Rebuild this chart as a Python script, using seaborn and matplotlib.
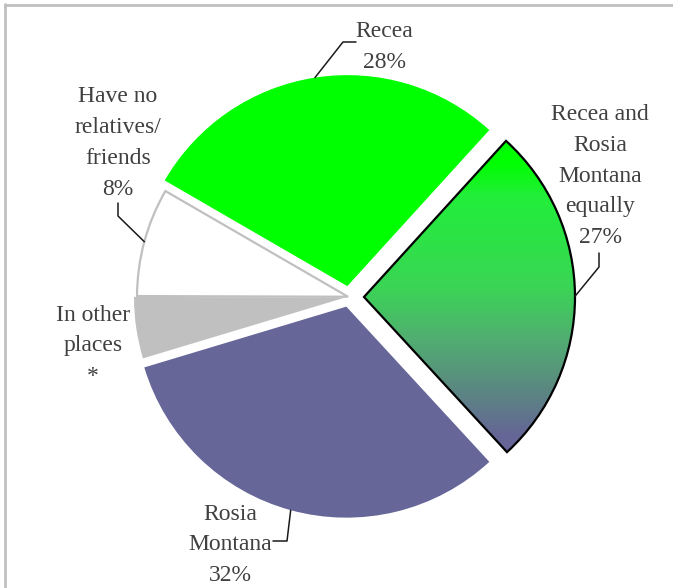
import numpy as np
import matplotlib
matplotlib.use("Agg")
import matplotlib.pyplot as plt
import seaborn as sns
from matplotlib.lines import Line2D
from matplotlib.colors import LinearSegmentedColormap

# share of respondents by place (%), clockwise from the top-right slice
categories = ["Recea and\nRosia\nMontana\nequally", "Rosia\nMontana", "In other\nplaces",
              "Have no\nrelatives/\nfriends", "Recea"]
shares = [26.4, 32.2, 4.7, 8.3, 28.4]
share_labels = ["27%", "32%", "*", "8%", "28%"]

sns.set_theme(style="white")
plt.rcParams["font.family"] = ["Liberation Serif", "DejaVu Serif"]

W, H = 673, 588
fig = plt.figure(figsize=(W / 100, H / 100), dpi=100)
ax = fig.add_axes([0, 0, 1, 1])

cx, cy, R = 349, H - 297, 211
fills = ["#1aff1a", "#666699", "#c0c0c0", "white", "#00ff00"]
# pie() takes explode in data units here (pixels)
explode = [15, 10, 4, 1, 11]
wedges, _ = ax.pie(shares, explode=explode, startangle=47.7, counterclock=False,
                   center=(cx, cy), radius=R, colors=fills,
                   wedgeprops=dict(linewidth=0))
ax.set_xlim(0, W)
ax.set_ylim(0, H)
ax.set_aspect("equal")
ax.axis("off")

# gradient fill on the "equally" slice
grad = wedges[0]
grad.set_facecolor("none")
grad.set_edgecolor("black")
grad.set_linewidth(1.6)
grad.set_zorder(3)
bb = grad.get_path().get_extents()
cmap = LinearSegmentedColormap.from_list(
    "g", [(0.0, "#666699"), (0.05, "#656596"), (0.21, "#5a8a80"), (0.37, "#50b070"),
          (0.53, "#3ad555"), (0.82, "#22ee3a"), (0.93, "#00ff00"), (1.0, "#00ff00")])
img = ax.imshow(np.linspace(0, 1, 256).reshape(-1, 1), cmap=cmap, origin="lower",
                extent=[bb.x0, bb.x1, bb.y0, bb.y1], aspect="auto", zorder=2)
img.set_clip_path(grad)
ax.set_xlim(0, W)
ax.set_ylim(0, H)

wedges[3].set_edgecolor("#c0c0c0")
wedges[3].set_linewidth(1.6)

# label layout (pixel positions, y from the top)
text_pos = [(600, 176), (230, 545), (93, 346), (118, 143), (384, 47)]
leaders = [[(599, 267), (599, 253)], [(287, 541), (273, 541)], None,
           [(118, 216), (118, 203)], [(343, 42), (356, 42)]]

tc = "#404040"
for i, w in enumerate(wedges):
    ax.text(text_pos[i][0], H - text_pos[i][1], categories[i] + "\n" + share_labels[i],
            ha="center", va="center", fontsize=17, color=tc, linespacing=1.62, zorder=5)
    if leaders[i] is None:
        continue
    th = np.deg2rad((w.theta1 + w.theta2) / 2)
    ex = w.center[0] + R * np.cos(th)
    ey = w.center[1] + R * np.sin(th)
    xs = [ex] + [p[0] for p in leaders[i]]
    ys = [ey] + [H - p[1] for p in leaders[i]]
    ax.plot(xs, ys, color="#1a1a1a", lw=1.1, zorder=4)

# light grey frame on top and left edges
fig.add_artist(Line2D([4.5 / W, 1], [1 - 4.5 / H] * 2, transform=fig.transFigure,
                      color="#c0c0c0", lw=2))
fig.add_artist(Line2D([4.5 / W] * 2, [0, 1 - 4 / H], transform=fig.transFigure,
                      color="#c0c0c0", lw=2))

fig.savefig("out.png", dpi=100, facecolor="white")
